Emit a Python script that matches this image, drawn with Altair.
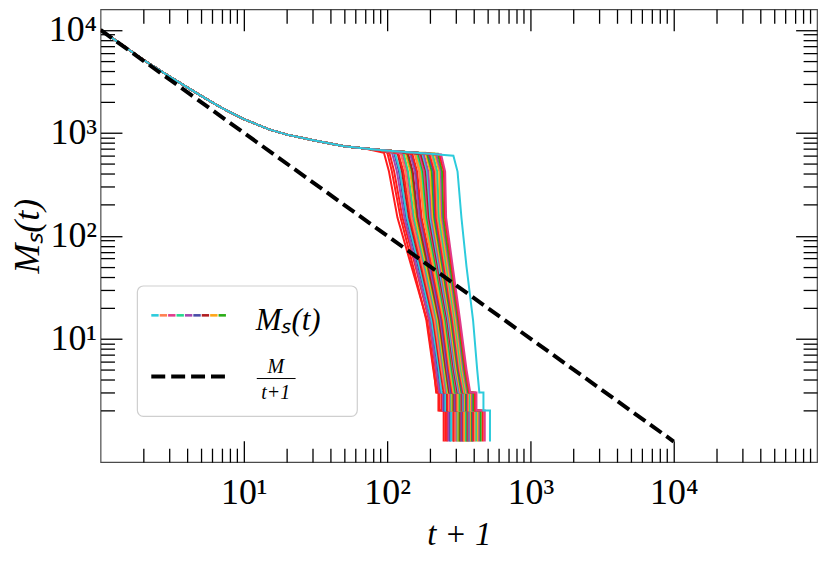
import altair as alt
import pandas as pd

W, H = 720, 455
FONT = "Liberation Serif"

# ---------------- data ----------------
# shared early part of every run  (x = t+1, y = M_s(t))
HEAD_T = [1, 2, 3, 5, 7, 10, 15, 20, 30, 50]
HEAD_M = [10000, 5100, 3550, 2300, 1750, 1360, 1080, 960, 850, 740]
# shared plateau
PLATEAU_T = [70, 90, 120, 160, 200, 250]
PLATEAU_M = [705, 680, 660, 640, 625, 610]
# levels passed during the final collapse (staircase at 3, 2, 1)
DROP_M = [420, 150, 50, 15, 5, 3, 3, 2, 2, 1]

COLORS = {
    "cy": "#2ccbdc", "co": "#ff7f50", "pk": "#e03b8b", "mi": "#25d78e",
    "pu": "#a647ad", "sl": "#4a4ca8", "dr": "#b01c20", "or": "#ffa516",
    "gr": "#2aad16", "rd": "#ff1c1c",
}
# run: colour, knee t+1, knee M, t+1 at M=420, 150, 50, 15, 5, 3 (start), 3 (end), 2 (end)
RUNS = [
    ("rd", 95, 640, 103, 118, 148, 190, 212, 220, 228, 248),
    ("rd", 100, 650, 108, 124, 152, 188, 210, 222, 232, 255),
    ("rd", 104, 630, 112, 128, 158, 196, 218, 228, 240, 262),
    ("pu", 108, 645, 117, 132, 160, 198, 220, 232, 245, 268),
    ("sl", 112, 640, 121, 136, 165, 204, 226, 238, 250, 275),
    ("cy", 114, 630, 123, 138, 168, 205, 230, 240, 255, 280),
    ("dr", 118, 645, 127, 142, 172, 210, 235, 248, 262, 290),
    ("rd", 120, 625, 130, 145, 175, 212, 238, 250, 265, 292),
    ("co", 124, 640, 134, 148, 178, 215, 240, 255, 270, 300),
    ("pk", 128, 630, 138, 152, 182, 220, 245, 258, 275, 305),
    ("mi", 130, 645, 140, 154, 184, 222, 248, 262, 280, 310),
    ("or", 134, 650, 145, 158, 188, 226, 252, 266, 285, 315),
    ("gr", 138, 635, 149, 162, 192, 230, 256, 270, 290, 320),
    ("dr", 140, 625, 151, 164, 194, 232, 258, 272, 292, 325),
    ("pu", 144, 640, 156, 168, 198, 236, 262, 276, 296, 330),
    ("sl", 148, 630, 160, 172, 202, 240, 266, 280, 300, 335),
    ("rd", 150, 620, 162, 174, 205, 244, 270, 285, 305, 340),
    ("co", 155, 640, 167, 180, 210, 248, 274, 290, 310, 345),
    ("or", 158, 645, 171, 183, 213, 250, 276, 292, 315, 350),
    ("mi", 162, 630, 175, 187, 217, 254, 280, 296, 320, 355),
    ("gr", 165, 640, 178, 190, 220, 257, 284, 300, 325, 360),
    ("pk", 168, 625, 181, 193, 223, 260, 288, 305, 330, 365),
    ("dr", 172, 620, 186, 196, 226, 263, 292, 310, 335, 370),
    ("cy", 176, 630, 190, 200, 230, 267, 296, 315, 340, 375),
    ("pu", 180, 625, 194, 204, 234, 271, 300, 320, 345, 380),
    ("or", 185, 640, 200, 208, 238, 275, 304, 325, 350, 385),
    ("gr", 190, 625, 205, 213, 243, 280, 310, 330, 355, 390),
    ("sl", 194, 630, 210, 217, 247, 284, 314, 335, 360, 395),
    ("rd", 198, 615, 214, 220, 250, 287, 318, 340, 365, 400),
    ("co", 203, 625, 219, 225, 255, 292, 322, 345, 370, 410),
    ("mi", 208, 620, 224, 230, 260, 297, 328, 350, 378, 420),
    ("or", 214, 630, 231, 236, 265, 302, 334, 356, 385, 430),
    ("pu", 220, 615, 237, 242, 271, 308, 340, 362, 392, 440),
    ("gr", 226, 625, 242, 247, 276, 313, 346, 368, 400, 450),
    ("rd", 232, 610, 249, 253, 282, 318, 352, 374, 410, 465),
    ("pk", 238, 615, 254, 258, 287, 323, 358, 380, 420, 480),
    ("cy", 290, 600, 310, 330, 358, 398, 425, 440, 470, 522),
]

DASH_T = [1, 10000]
DASH_M = [10000, 1]

LEGEND_COLORS = ["cy", "co", "pk", "mi", "pu", "sl", "dr", "or", "gr"]

MAJOR = [10, 100, 1000, 10000]
X_TICKS = [m * 10 ** k for k in range(5) for m in range(1, 10) if m * 10 ** k > 1]
Y_TICKS = [v for v in X_TICKS if v <= 10000]

# ---------------- build tables ----------------
recs = []
for ri, (c, tk, pk, t420, t150, t50, t15, t5, t3, t3e, t2e) in enumerate(RUNS):
    plat = [(t, m) for t, m in zip(PLATEAU_T, PLATEAU_M) if t < 0.9 * tk]
    ts = HEAD_T + [p[0] for p in plat] + [tk, t420, t150, t50, t15, t5, t3, t3e, t3e, t2e, t2e]
    ms = HEAD_M + [p[1] for p in plat] + [pk] + DROP_M
    for k, (t, m) in enumerate(zip(ts, ms)):
        recs.append({"run": ri, "idx": k, "t1": t, "M": m, "color": COLORS[c]})
runs_df = pd.DataFrame(recs)
dash_df = pd.DataFrame({"t1": DASH_T, "M": DASH_M})
leg_df = pd.DataFrame({"i": list(range(len(LEGEND_COLORS))),
                       "color": [COLORS[c] for c in LEGEND_COLORS]})
one = pd.DataFrame({"k": [0]})

XS = alt.Scale(type="log", domain=[1, 100000], nice=False)
YS = alt.Scale(type="log", domain=[10 ** -0.2, 10 ** 4.2], nice=False)

MAJOR_TEST = "indexof([10, 100, 1000, 10000], datum.value) >= 0"
TICK_SIZE = {"condition": {"test": MAJOR_TEST, "value": 21.5}, "value": 14}
SUP = ("datum.value == 10 ? '10\u00b9' : datum.value == 100 ? '10\u00b2' : "
       "datum.value == 1000 ? '10\u00b3' : '10\u2074'")


def tick_axis(orient, offset, values):
    return alt.Axis(orient=orient, offset=offset, values=values, labels=False,
                    domain=False, grid=False, ticks=True, tickColor="black",
                    tickWidth=1.3, tickSize=TICK_SIZE, title=None)


x_lab = alt.Axis(orient="bottom", values=MAJOR, labelExpr=SUP, ticks=False,
                 domain=False, grid=False, labelFont=FONT, labelFontSize=36,
                 labelColor="black", labelPadding=14, labelOverlap=False,
                 title="t + 1", titleFont=FONT, titleFontSize=33,
                 titleFontStyle="italic", titleFontWeight="normal",
                 titleColor="black", titlePadding=8)
y_lab = alt.Axis(orient="left", values=MAJOR, labelExpr=SUP, ticks=False,
                 domain=False, grid=False, labelFont=FONT, labelFontSize=36,
                 labelColor="black", labelPadding=4, labelOverlap=False,
                 title="M\u209b(t)", titleFont=FONT, titleFontSize=36,
                 titleFontStyle="italic", titleFontWeight="normal",
                 titleColor="black", titlePadding=2)

curves = alt.Chart(runs_df).mark_line(strokeWidth=2, clip=True).encode(
    x=alt.X("t1:Q", scale=XS, axis=x_lab),
    y=alt.Y("M:Q", scale=YS, axis=y_lab),
    color=alt.Color("color:N", scale=None),
    detail="run:N",
    order=alt.Order("idx:Q"),
)

dashed = alt.Chart(dash_df).mark_line(color="black", strokeWidth=4,
                                      strokeDash=[14, 6], clip=True).encode(
    x=alt.X("t1:Q", scale=XS, axis=tick_axis("top", -H, X_TICKS)),
    y=alt.Y("M:Q", scale=YS, axis=tick_axis("right", -W, Y_TICKS)),
)

ghost = alt.Chart(dash_df).mark_point(opacity=0).encode(
    x=alt.X("t1:Q", scale=XS, axis=tick_axis("bottom", -H, X_TICKS)),
    y=alt.Y("M:Q", scale=YS, axis=tick_axis("left", -W, Y_TICKS)),
)

# ---------------- legend ----------------
box = alt.Chart(one).mark_rect(fill="white", stroke="#cfcfcf", strokeWidth=1.2,
                               cornerRadius=6).encode(
    x=alt.value(37), x2=alt.value(258), y=alt.value(278), y2=alt.value(409))

segs = alt.Chart(leg_df).transform_calculate(
    xa="51 + datum.i * 8.45", xb="51 + datum.i * 8.45 + 7.4"
).mark_rule(strokeWidth=2.6).encode(
    x=alt.X("xa:Q", scale=None), x2="xb:Q", y=alt.value(307.5),
    color=alt.Color("color:N", scale=None))

dash_sample = alt.Chart(one).mark_rule(color="black", strokeWidth=4,
                                       strokeDash=[14, 6]).encode(
    x=alt.value(51), x2=alt.value(127), y=alt.value(369))

leg_t1 = alt.Chart(one).mark_text(text="M\u209b(t)", font=FONT, fontSize=31,
                                  fontStyle="italic", align="left",
                                  baseline="alphabetic", color="black").encode(
    x=alt.value(156), y=alt.value(322))
frac_num = alt.Chart(one).mark_text(text="M", font=FONT, fontSize=20,
                                    fontStyle="italic", align="center",
                                    baseline="alphabetic", color="black").encode(
    x=alt.value(176), y=alt.value(365))
frac_bar = alt.Chart(one).mark_rule(color="black", strokeWidth=1).encode(
    x=alt.value(157), x2=alt.value(196), y=alt.value(371))
frac_den = alt.Chart(one).mark_text(text="t+1", font=FONT, fontSize=20,
                                    fontStyle="italic", align="center",
                                    baseline="alphabetic", color="black").encode(
    x=alt.value(176), y=alt.value(392))

chart = alt.layer(
    curves, dashed, ghost, box, segs, dash_sample, leg_t1, frac_num, frac_bar, frac_den
).resolve_scale(x="independent", y="independent").resolve_axis(
    x="independent", y="independent"
).properties(
    width=W, height=H,
    padding={"left": 93, "top": 0, "right": 5, "bottom": 92},
    autosize=alt.AutoSizeParams(type="none"),
).configure_view(stroke="#4a4a4a", strokeWidth=1.2)

chart.save("out.html", embed_options={"renderer": "svg", "actions": False})
